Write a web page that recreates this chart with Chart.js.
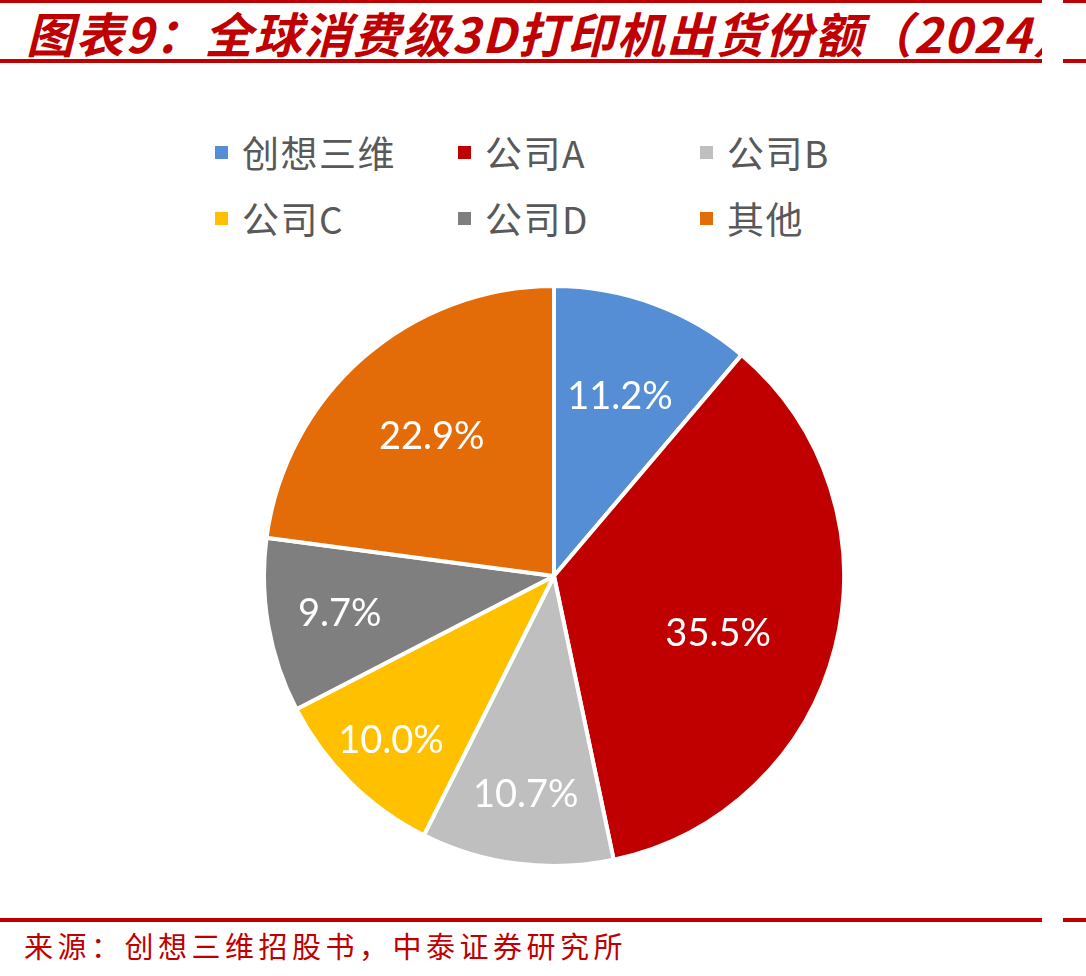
<!DOCTYPE html>
<html>
<head>
<meta charset="utf-8">
<script src="https://cdn.jsdelivr.net/npm/chart.js@4/dist/chart.umd.min.js"></script>
<style>
  html, body { margin: 0; padding: 0; background: #fff; }
  #page { position: relative; width: 1086px; height: 976px; overflow: hidden; }
  .rule { position: absolute; height: 4px; background: #C00000; }
  #title {
    position: absolute; left: 26px; top: 4px; width: 1016px; height: 56px;
    overflow: hidden; white-space: nowrap;
    font-family: "Noto Sans CJK SC", sans-serif; font-weight: 700; font-style: italic;
    font-size: 48px; line-height: 56px; color: #C00000; letter-spacing: 1.5px;
  }
  #source {
    position: absolute; left: 24px; top: 926px;
    font-family: "Noto Sans CJK SC", sans-serif; font-size: 29px; line-height: 38px;
    color: #C00000; letter-spacing: 4.5px; white-space: nowrap;
  }
  #legend { position: absolute; left: 0; top: 0; }
  .item {
    position: absolute; display: flex; align-items: center; white-space: nowrap;
    font-family: "Noto Sans CJK SC", sans-serif; font-size: 37px; color: #595959;
    letter-spacing: 1.5px;
  }
  .item span.box { display: inline-block; width: 13px; height: 13px; margin-right: 14px; }
  #wrap { position: absolute; left: 262px; top: 284px; width: 584px; height: 584px; }
</style>
</head>
<body>
<div id="page">
  <div class="rule" style="left:0;top:0;width:1042px;height:3px"></div>
  <div class="rule" style="left:1063px;top:0;width:23px;height:3px"></div>
  <div id="title">图表9：全球消费级3D打印机出货份额（2024）</div>
  <div class="rule" style="left:0;top:59px;width:1042px"></div>
  <div class="rule" style="left:1063px;top:59px;width:23px"></div>

  <div id="legend"></div>
  <div id="wrap"><canvas id="pie"></canvas></div>

  <div class="rule" style="left:0;top:918px;width:1042px"></div>
  <div class="rule" style="left:1063px;top:918px;width:23px"></div>
  <div id="source">来源：创想三维招股书，中泰证券研究所</div>
</div>

<script>
// --- données ---
const labels = ['创想三维', '公司A', '公司B', '公司C', '公司D', '其他'];
const shares = [11.2, 35.5, 10.7, 10.0, 9.7, 22.9];
const colors = ['#558ED5', '#C00000', '#BFBFBF', '#FFC000', '#7F7F7F', '#E36C09'];

// --- légende (3 colonnes, 2 lignes) ---
const legend = document.getElementById('legend');
const colX = [215, 458, 700];
const rowY = [152, 218];
labels.forEach((lab, i) => {
    const el = document.createElement('div');
    el.className = 'item';
    el.style.left = colX[i % 3] + 'px';
    el.style.top = (rowY[Math.floor(i / 3)] - 27) + 'px';
    el.innerHTML = '<span class="box" style="background:' + colors[i] + '"></span>' + lab;
    legend.appendChild(el);
});

// placement des étiquettes façon Excel : distance relative au rayon + petit décalage d'angle (rad)
const labelRadius = [0.66, 0.6, 0.76, 0.8, 0.75, 0.64];
const labelTurn = [0, 0.09, 0, 0, 0, 0];

const pctLabels = {
    id: 'pctLabels',
    afterDatasetsDraw(chart) {
        const ctx = chart.ctx;
        const meta = chart.getDatasetMeta(0);
        ctx.save();
        ctx.fillStyle = '#fff';
        ctx.font = '38px Lato, "Open Sans", sans-serif';
        ctx.textAlign = 'center';
        ctx.textBaseline = 'middle';
        meta.data.forEach((arc, i) => {
            const mid = (arc.startAngle + arc.endAngle) / 2 + labelTurn[i];
            const r = arc.outerRadius * labelRadius[i];
            const x = arc.x + Math.cos(mid) * r;
            const y = arc.y + Math.sin(mid) * r;
            ctx.fillText(shares[i].toFixed(1) + '%', x, y);
        });
        ctx.restore();
    }
};

new Chart(document.getElementById('pie'), {
    type: 'pie',
    data: {
        labels: labels,
        datasets: [{
            data: shares,
            backgroundColor: colors,
            borderColor: '#fff',
            borderWidth: 4,
            hoverOffset: 0
        }]
    },
    options: {
        responsive: true,
        maintainAspectRatio: false,
        animation: false,
        layout: { padding: 0 },
        plugins: {
            legend: { display: false },
            tooltip: { enabled: false }
        }
    },
    plugins: [pctLabels]
});
</script>
</body>
</html>
